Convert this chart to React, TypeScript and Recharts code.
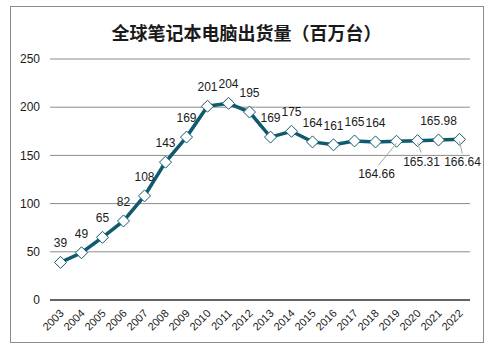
import { LineChart, Line, XAxis, YAxis, CartesianGrid, ReferenceLine } from 'recharts'

const years = [
  '2003', '2004', '2005', '2006', '2007', '2008', '2009', '2010', '2011', '2012',
  '2013', '2014', '2015', '2016', '2017', '2018', '2019', '2020', '2021', '2022',
]
const shipments = [
  39, 49, 65, 82, 108, 143, 169, 201, 204, 195,
  169, 175, 164, 161, 165, 164, 164.66, 165.31, 165.98, 166.64,
]
const yTicks = [0, 50, 100, 150, 200, 250]

const data = years.map((year, i) => ({ year, value: shipments[i] }))

const lineColor = '#0f5a6e'
const font = '"Liberation Sans", Arial, sans-serif'

// label placement: [dx, dy, leader line]
const labelOffsets: Record<string, [number, number, boolean]> = {
  '2019': [-20, 33, true],
  '2020': [4, 21, true],
  '2022': [3, 23, true],
}

const Diamond = (props: any) => {
  const { cx, cy } = props
  if (cx == null || cy == null) return null
  const r = 6
  return (
    <path
      d={`M${cx},${cy - r} L${cx + r},${cy} L${cx},${cy + r} L${cx - r},${cy} Z`}
      fill="#ffffff"
      stroke={lineColor}
      strokeWidth={1}
    />
  )
}

const ValueLabel = (props: any) => {
  const { x, y, value, index } = props
  const year = years[index]
  const off = labelOffsets[year]
  if (off) {
    const [dx, dy, leader] = off
    return (
      <g>
        {leader && (
          <line x1={x} y1={y + 2} x2={x + dx * 0.9} y2={y + dy - 9} stroke="#a6a6a6" strokeWidth={1} />
        )}
        <text x={x + dx} y={y + dy} textAnchor="middle" fontSize={12} fill="#1a1a1a" fontFamily={font} dominantBaseline="central">
          {value}
        </text>
      </g>
    )
  }
  return (
    <text x={x} y={y - 19} textAnchor="middle" fontSize={12} fill="#1a1a1a" fontFamily={font} dominantBaseline="central">
      {value}
    </text>
  )
}

const YearTick = (props: any) => {
  const { x, y, payload } = props
  return (
    <text
      x={x + 4}
      y={y + 6}
      textAnchor="end"
      fontSize={11}
      fill="#1a1a1a"
      fontFamily={font}
      transform={`rotate(-45, ${x + 4}, ${y + 6})`}
    >
      {payload.value}
    </text>
  )
}

export default function App() {
  return (
    <div style={{ position: 'absolute', left: 0, top: 0, width: 493, height: 350, background: '#fff' }}>
      <div
        style={{
          position: 'absolute',
          left: 10,
          top: 6,
          width: 472,
          height: 335,
          border: '1px solid #8c8c8c',
        }}
      />
      <div
        style={{
          position: 'absolute',
          left: 0,
          top: 19,
          width: 493,
          textAlign: 'center',
          fontFamily: '"Noto Sans CJK SC", sans-serif',
          fontWeight: 700,
          fontSize: 18,
          lineHeight: '26px',
          color: '#1a1a1a',
        }}
      >
        全球笔记本电脑出货量（百万台）
      </div>
      <LineChart
        width={493}
        height={350}
        data={data}
        margin={{ top: 59, right: 23, left: 10, bottom: 0 }}
        style={{ position: 'absolute', left: 0, top: 0 }}
      >
        <CartesianGrid vertical={false} stroke="#8c8c8c" />
        <XAxis
          dataKey="year"
          interval={0}
          height={50}
          padding={{ left: 10.5, right: 10.5 }}
          axisLine={false}
          tickLine={false}
          tick={<YearTick />}
        />
        <YAxis
          width={40}
          domain={[0, 250]}
          ticks={yTicks}
          axisLine={false}
          tickLine={false}
          tickSize={0}
          tickMargin={10}
          tick={{ fontSize: 12, fill: '#1a1a1a', fontFamily: font }}
        />
        <ReferenceLine y={0} stroke="#000000" strokeWidth={1} />
        <Line
          type="linear"
          dataKey="value"
          stroke={lineColor}
          strokeWidth={3.5}
          dot={<Diamond />}
          label={<ValueLabel />}
          isAnimationActive={false}
        />
      </LineChart>
    </div>
  )
}
